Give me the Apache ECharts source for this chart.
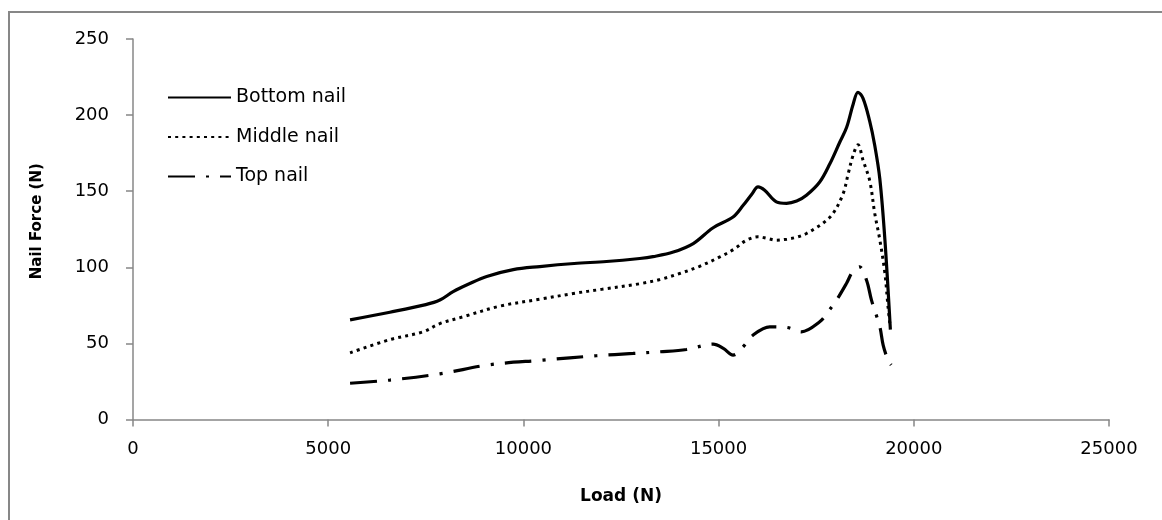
<!DOCTYPE html>
<html>
<head>
<meta charset="utf-8">
<script src="https://cdn.jsdelivr.net/npm/echarts@6/dist/echarts.min.js"></script>
<style>
html,body{margin:0;padding:0;background:#fff;}
#chart{width:1162px;height:520px;}
</style>
</head>
<body>
<div id="chart"></div>
<script>
const seriesNames = ['Bottom nail', 'Middle nail', 'Top nail'];
const xTicks = [0, 5000, 10000, 15000, 20000, 25000];
const yTicks = [0, 50, 100, 150, 200, 250];

const bottomNail = [
  [5560, 65.5], [6580, 70.5], [7500, 75.5], [7860, 78.5], [8200, 84], [8600, 89],
  [9060, 94], [9740, 98.5], [10420, 100.5], [11300, 102.5], [12130, 103.8], [12980, 105.8],
  [13320, 107], [13840, 110], [14350, 115.6], [14860, 126], [15370, 133], [15630, 140.7],
  [15850, 148], [16010, 152.8], [16180, 150.6], [16480, 143], [16740, 142], [17000, 143.5],
  [17250, 147.3], [17590, 156], [17850, 168], [18100, 182], [18280, 192], [18450, 207.5],
  [18570, 215], [18700, 211], [18870, 196], [19000, 180], [19130, 158], [19260, 118], [19400, 59]
];
const middleNail = [
  [5560, 43.8], [6580, 52.5], [7430, 57.6], [7860, 63], [8460, 67.5], [9400, 74.5],
  [10420, 79], [11280, 82.8], [12000, 85.5], [12980, 89.2], [13500, 92], [14000, 95.9],
  [14500, 100.5], [15030, 106.8], [15400, 112], [15715, 117.8], [16010, 120], [16250, 119],
  [16480, 117.8], [16750, 118.5], [17000, 119.8], [17250, 122.2], [17500, 126], [17680, 129.1],
  [17930, 135.3], [18190, 148.4], [18320, 161.5], [18445, 173.6], [18570, 180.5], [18700, 170.3],
  [18870, 157], [19000, 135.3], [19130, 118], [19260, 96], [19340, 74], [19390, 62]
];
const topNail = [
  [5560, 23.8], [6580, 25.9], [7860, 30], [9140, 36], [10500, 39], [11870, 41.9],
  [12810, 43.4], [13500, 44.5], [14180, 46], [14860, 49.5], [15120, 46.7], [15370, 42.3],
  [15630, 47.8], [15880, 55.4], [16310, 60.9], [16740, 60.5], [17120, 57.6], [17590, 64.2],
  [17800, 70.7], [18020, 78.4], [18275, 89.4], [18445, 97.6], [18610, 100.3], [18790, 91.5],
  [18916, 78.4], [19130, 60.9], [19215, 48.9], [19340, 39], [19420, 35.8]
];

const chart = echarts.init(document.getElementById('chart'), null, {renderer: 'canvas'});
const axisGray = '#878787';
const textFont = 'DejaVu Sans';

function lineSeries(name, data, type, width) {
  return {
    name: name,
    type: 'line',
    data: data,
    showSymbol: false,
    symbol: 'none',
    smooth: 0.35,
    lineStyle: {color: '#000', width: width, type: type, cap: 'butt'},
    itemStyle: {color: '#000'},
    emphasis: {disabled: true},
    animation: false
  };
}

chart.setOption({
  animation: false,
  backgroundColor: '#fff',
  grid: {left: 133, right: 53, top: 39, bottom: 100.5, containLabel: false},
  graphic: [{
    type: 'rect',
    shape: {x: 9, y: 12, width: 1200, height: 560},
    style: {fill: 'none', stroke: axisGray, lineWidth: 2},
    silent: true
  }],
  legend: {
    orient: 'vertical',
    left: 162,
    top: 83,
    itemWidth: 63,
    itemHeight: 14,
    itemGap: 20.5,
    data: seriesNames,
    itemStyle: {opacity: 0},
    textStyle: {color: '#000', fontSize: 19, fontFamily: textFont, padding: [0, 0, 0, 0]}
  },
  xAxis: {
    type: 'value',
    min: xTicks[0],
    max: xTicks[xTicks.length - 1],
    interval: xTicks[1] - xTicks[0],
    name: 'Load (N)',
    nameLocation: 'middle',
    nameGap: 69,
    nameTextStyle: {color: '#000', fontSize: 17, fontWeight: 'bold', fontFamily: textFont},
    axisLine: {show: true, lineStyle: {color: axisGray, width: 1.5}},
    axisTick: {show: true, length: 7, lineStyle: {color: axisGray, width: 1.5}},
    axisLabel: {color: '#000', fontSize: 18, fontFamily: textFont, margin: 21, formatter: v => String(v)},
    splitLine: {show: false}
  },
  yAxis: {
    type: 'value',
    min: yTicks[0],
    max: yTicks[yTicks.length - 1],
    interval: yTicks[1] - yTicks[0],
    name: 'Nail Force (N)',
    nameLocation: 'middle',
    nameRotate: 90,
    nameGap: 88,
    nameTextStyle: {color: '#000', fontSize: 15, fontWeight: 'bold', fontFamily: textFont, padding: [0, 0, 0, 16]},
    axisLine: {show: true, lineStyle: {color: axisGray, width: 1.5}},
    axisTick: {show: true, length: 7, lineStyle: {color: axisGray, width: 1.5}},
    axisLabel: {color: '#000', fontSize: 18, fontFamily: textFont, margin: 24, formatter: v => String(v)},
    splitLine: {show: false}
  },
  series: [
    lineSeries(seriesNames[0], bottomNail, 'solid', 3.2),
    lineSeries(seriesNames[1], middleNail, [3, 4.2], 3),
    lineSeries(seriesNames[2], topNail, [27, 11, 3, 11], 3.2)
  ]
});
</script>
</body>
</html>
